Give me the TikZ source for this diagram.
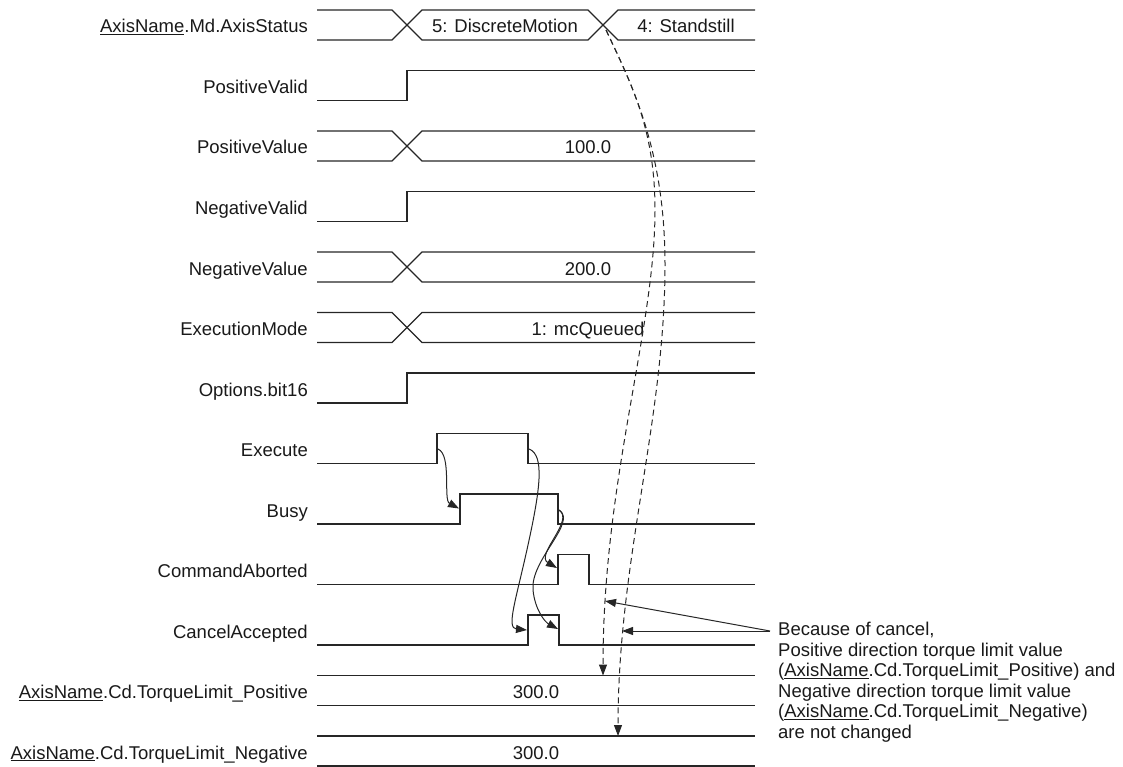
\documentclass[tikz,border=0pt]{standalone}
\usepackage{fontspec}
\setmainfont{Liberation Sans}
\usetikzlibrary{arrows.meta}
\begin{document}
\begin{tikzpicture}[x=1pt,y=-1pt,
  sig/.style={line width=1.2pt, draw=black!85, line join=miter},
  lbl/.style={anchor=base east, inner sep=0pt, font=\fontsize{18.5}{22}\selectfont, text=black!90},
  val/.style={anchor=base, inner sep=0pt, font=\fontsize{18.5}{22}\selectfont, text=black!90},
  arr/.style={line width=1pt, draw=black!85, -{Triangle[length=11pt,width=8pt]}},
  darr/.style={arr, dash pattern=on 6pt off 4pt}]
\useasboundingbox (0,0) rectangle (1123,767);

% labels
\node[lbl] (l0) at (308,33) {\underline{AxisName}.Md.AxisStatus};
\node[lbl] (l1) at (308,93.5) {PositiveValid};
\node[lbl] (l2) at (308,154) {PositiveValue};
\node[lbl] (l3) at (308,214.5) {NegativeValid};
\node[lbl] (l4) at (308,275) {NegativeValue};
\node[lbl] (l5) at (308,335.5) {ExecutionMode};
\node[lbl] (l6) at (308,396) {Options.bit16};
\node[lbl] (l7) at (308,456.5) {Execute};
\node[lbl] (l8) at (308,517) {Busy};
\node[lbl] (l9) at (308,577.5) {CommandAborted};
\node[lbl] (l10) at (308,638) {CancelAccepted};
\node[lbl] (l11) at (308,698.5) {\underline{AxisName}.Cd.TorqueLimit\_Positive};
\node[lbl] (l12) at (308,759) {\underline{AxisName}.Cd.TorqueLimit\_Negative};

% AxisStatus
\draw[sig] (317,10) -- (392,10) -- (422,40) -- (588,40) -- (618,10) -- (755,10);
\draw[sig] (317,40) -- (392,40) -- (422,10) -- (588,10) -- (618,40) -- (755,40);
% PositiveValid
\draw[sig] (317,100.5) -- (407,100.5) -- (407,70.5) -- (755,70.5);
% PositiveValue
\draw[sig] (317,131) -- (392,131) -- (422,161) -- (755,161);
\draw[sig] (317,161) -- (392,161) -- (422,131) -- (755,131);
% NegativeValid
\draw[sig] (317,221.5) -- (407,221.5) -- (407,191.5) -- (755,191.5);
% NegativeValue
\draw[sig] (317,252) -- (392,252) -- (422,282) -- (755,282);
\draw[sig] (317,282) -- (392,282) -- (422,252) -- (755,252);
% ExecutionMode
\draw[sig] (317,312.5) -- (392,312.5) -- (422,342.5) -- (755,342.5);
\draw[sig] (317,342.5) -- (392,342.5) -- (422,312.5) -- (755,312.5);
% Options.bit16
\draw[sig] (317,403) -- (407,403) -- (407,373) -- (755,373);
% Execute
\draw[sig] (317,463.5) -- (437,463.5) -- (437,433.5) -- (528,433.5) -- (528,463.5) -- (755,463.5);
% Busy
\draw[sig] (317,524) -- (460,524) -- (460,494) -- (558,494) -- (558,524) -- (755,524);
% CommandAborted
\draw[sig] (317,584.5) -- (558,584.5) -- (558,554.5) -- (589,554.5) -- (589,584.5) -- (755,584.5);
% CancelAccepted
\draw[sig] (317,645) -- (528,645) -- (528,615) -- (559,615) -- (559,645) -- (755,645);
% TorqueLimit_Positive
\draw[sig] (317,675.5) -- (755,675.5);
\draw[sig] (317,705.5) -- (755,705.5);
% TorqueLimit_Negative
\draw[sig] (317,736) -- (755,736);
\draw[sig] (317,766) -- (755,766);

% values
\node[val] (v1) at (505,33) {5: DiscreteMotion};
\node[val] (v2) at (686,33) {4: Standstill};
\node[val] (v3) at (588,154) {100.0};
\node[val] (v4) at (588,275) {200.0};
\node[val] (v5) at (588,335.5) {1: mcQueued};
\node[val] (v6) at (536,698.5) {300.0};
\node[val] (v7) at (536,759) {300.0};

% causal arrows
\coordinate (exR) at (438,449);
\coordinate (buR) at (459,508.5);
\coordinate (exF) at (529,449);
\coordinate (caR) at (527,630);
\coordinate (buF) at (559,510);
\coordinate (cmR) at (557,568);
\coordinate (caF) at (558,629);
\draw[arr] (exR) .. controls (452,455) and (443,500) .. (buR);
\draw[arr] (exF) .. controls (545,455) and (540,490) .. (528,545) .. controls (516,600) and (506,628) .. (caR);
\draw[arr] (buF) .. controls (575,520) and (535,555) .. (cmR);
\draw[arr] (buF) .. controls (578,522) and (530,560) .. (533,590) .. controls (535,610) and (545,622) .. (caF);

% dashed arrows
\coordinate (st) at (606,30);
\coordinate (tlp) at (603,675.5);
\coordinate (tln) at (618,736);
\draw[darr] (st) .. controls (632,85) and (655,130) .. (655,210) .. controls (655,330) and (603,480) .. (tlp);
\draw[darr] (st) .. controls (632,85) and (665,150) .. (665,265) .. controls (665,420) and (618,560) .. (tln);

% callout
\coordinate (co) at (770,631);
\coordinate (pa) at (605,601);
\coordinate (pb) at (622,631);
\draw[arr] (co) -- (pa);
\draw[arr] (co) -- (pb);
\node[anchor=north west, inner sep=0pt, align=left, font=\fontsize{18.5}{20.5}\selectfont, text=black!90] (note) at (778,621.5)
  {\rule{0pt}{14pt}Because of cancel,\\
   Positive direction torque limit value\\
   (\underline{AxisName}.Cd.TorqueLimit\_Positive) and\\
   Negative direction torque limit value\\
   (\underline{AxisName}.Cd.TorqueLimit\_Negative)\\
   are not changed};
\end{tikzpicture}
\end{document}
